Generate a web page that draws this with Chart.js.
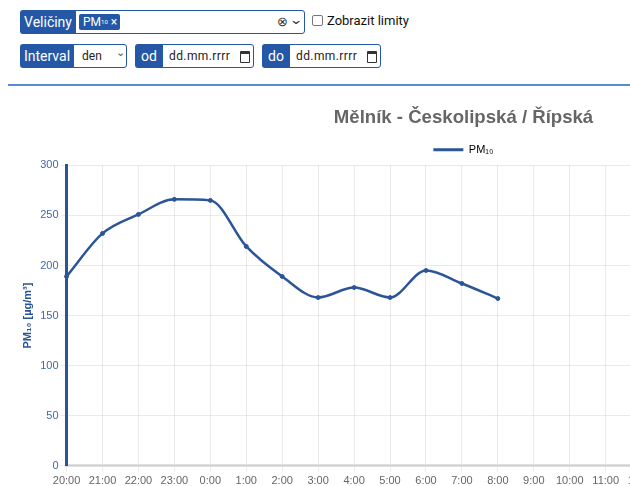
<!DOCTYPE html>
<html>
<head>
<meta charset="utf-8">
<script src="https://cdn.jsdelivr.net/npm/chart.js@4/dist/chart.umd.min.js"></script>
<style>
  html, body { margin:0; padding:0; background:#fff; overflow:hidden; width:630px; height:486px; }
  body { position:relative; font-family: Roboto, "Liberation Sans", Arial, sans-serif; }
  .lbl { position:absolute; background:#2557a7; color:#fff; font-size:14px; display:flex; align-items:center; justify-content:center; box-sizing:border-box; border-radius:3px 0 0 3px; }
  .box { position:absolute; background:#fff; border:1.5px solid #2557a7; box-sizing:border-box; border-radius:0 3px 3px 0; font-size:12px; color:#222; display:flex; align-items:center; }
  .chip { position:absolute; background:#2557a7; color:#fff; font-size:12px; border-radius:2px; display:flex; align-items:center; padding:0 4px; box-sizing:border-box; }
  #sep { position:absolute; left:8px; top:84px; width:622px; height:2px; background:#5a8ad2; }
  #wrap { position:absolute; left:17px; top:97px; width:893px; height:394px; }
</style>
</head>
<body>
  <div class="lbl" style="left:20px;top:10px;width:56px;height:24px;">Veličiny</div>
  <div class="box" style="left:75px;top:10px;width:230px;height:24px;">
    <div class="chip" style="left:3px;top:2.5px;height:16px;width:41px;">PM<sub style="font-size:6px;">10</sub>&nbsp;×</div>
    <span style="position:absolute;left:201px;top:3px;font-size:13px;color:#333;">⊗</span>
    <span style="position:absolute;left:215px;top:1px;font-size:13px;color:#333;transform:scaleX(1.3);">⌄</span>
  </div>
  <div style="position:absolute;left:312px;top:15px;width:11px;height:11px;border:1px solid #777;border-radius:2px;box-sizing:border-box;"></div>
  <div style="position:absolute;left:327px;top:13px;font-size:13px;color:#111;">Zobrazit limity</div>

  <div class="lbl" style="left:20px;top:44px;width:54px;height:24px;">Interval</div>
  <div class="box" style="left:73px;top:44px;width:54px;height:24px;">
    <span style="position:absolute;left:8px;">den</span>
    <span style="position:absolute;left:42px;top:1px;font-size:11px;color:#555;">⌄</span>
  </div>
  <div class="lbl" style="left:135px;top:44px;width:28px;height:24px;">od</div>
  <div class="box" style="left:162px;top:44px;width:92px;height:24px;">
    <span style="position:absolute;left:6px;letter-spacing:0.4px;">dd.mm.rrrr</span>
    <span style="position:absolute;left:77px;top:6px;width:8px;height:8px;border:1.5px solid #333;border-top-width:3px;border-radius:1px;"></span>
  </div>
  <div class="lbl" style="left:262px;top:44px;width:28px;height:24px;">do</div>
  <div class="box" style="left:289px;top:44px;width:92px;height:24px;">
    <span style="position:absolute;left:6px;letter-spacing:0.4px;">dd.mm.rrrr</span>
    <span style="position:absolute;left:77px;top:6px;width:8px;height:8px;border:1.5px solid #333;border-top-width:3px;border-radius:1px;"></span>
  </div>
  <div id="sep"></div>

  <div id="wrap"><canvas id="c"></canvas></div>

<script>
const categories = ["20:00","21:00","22:00","23:00","0:00","1:00","2:00","3:00","4:00","5:00","6:00","7:00","8:00","9:00","10:00","11:00","12:00","13:00","14:00","15:00","16:00","17:00","18:00","19:00"];
const pm10Values = [189, 232, 251, 266, 265, 219, 189, 168, 178, 168, 195, 182, 167, null, null, null, null, null, null, null, null, null, null, null];
const yTicks = [0, 50, 100, 150, 200, 250, 300];
const chartTitle = "Mělník - Českolipská / Řípská";
const seriesName = "PM₁₀";
const yAxisTitle = "PM₁₀ [µg/m³]";

const blue = "#2b5597";
Chart.defaults.font.family = '"Liberation Sans", Arial, Helvetica, sans-serif';

new Chart(document.getElementById("c"), {
  type: "line",
  data: {
    labels: categories,
    datasets: [{
      label: seriesName,
      data: pm10Values,
      borderColor: blue,
      backgroundColor: blue,
      borderWidth: 2.5,
      pointRadius: 2,
      pointBorderWidth: 1,
      pointHoverRadius: 2,
      tension: 0.4,
      cubicInterpolationMode: "monotone",
      fill: false
    }]
  },
  options: {
    responsive: true,
    maintainAspectRatio: false,
    animation: false,
    layout: { padding: 0 },
    plugins: {
      title: {
        display: true,
        text: chartTitle,
        color: "#666",
        font: { size: 18.6, weight: "bold" },
        padding: { top: 10, bottom: 11 }
      },
      legend: {
        display: true,
        labels: {
          color: "#666",
          font: { size: 11 },
          padding: 4,
          boxWidth: 30,
          boxHeight: 0,
          generateLabels: (chart) => chart.data.datasets.map((ds, i) => ({
            text: ds.label, fillStyle: ds.borderColor, strokeStyle: ds.borderColor,
            lineWidth: 3, datasetIndex: i, hidden: false
          }))
        }
      },
      tooltip: { enabled: false }
    },
    scales: {
      x: {
        grid: { color: "rgba(0,0,0,0.08)", tickLength: 6 },
        border: { color: "rgba(0,0,0,0.12)", width: 3 },
        ticks: { color: "#666", font: { size: 11 }, maxRotation: 0, autoSkip: false }
      },
      y: {
        min: 0, max: 300,
        afterBuildTicks: (axis) => { axis.ticks = yTicks.map(v => ({ value: v })); },
        grid: { color: "rgba(0,0,0,0.08)", tickLength: 6 },
        border: { color: blue, width: 3 },
        ticks: { color: "#4468a8", font: { size: 11 }, padding: 2 },
        title: { display: true, text: yAxisTitle, color: blue, font: { size: 11, weight: "bold" } }
      }
    }
  }
});
</script>
</body>
</html>
